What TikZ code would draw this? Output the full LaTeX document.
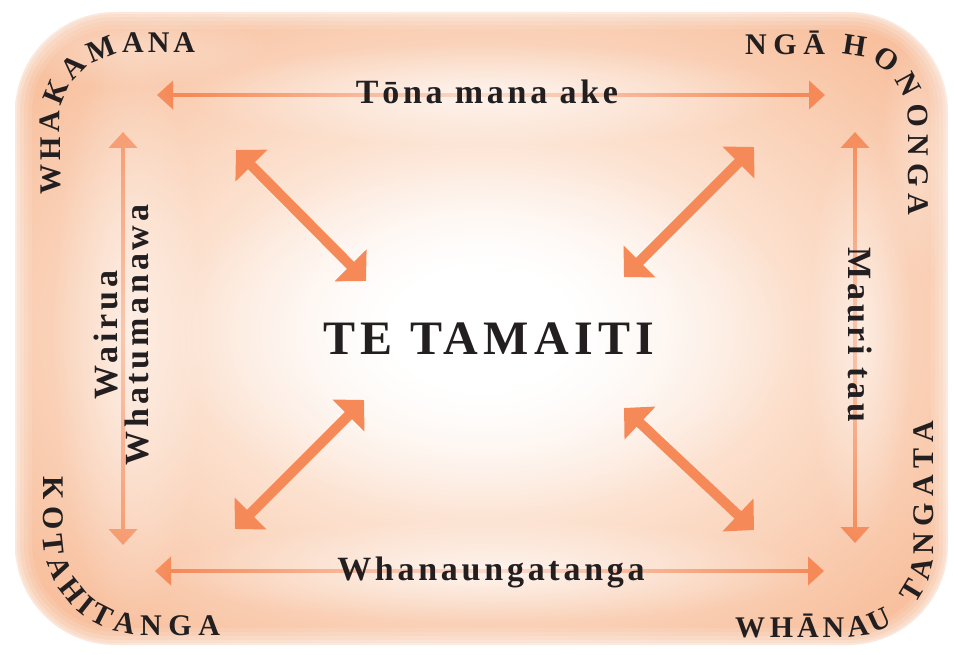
\documentclass[tikz,border=0pt]{standalone}
\usepackage{fontspec}
\setmainfont{Liberation Serif}
\newfontfamily\labfont[LetterSpace=11]{Liberation Serif}
\newfontfamily\cornfont{Liberation Serif}
\usetikzlibrary{arrows.meta,decorations.text,fadings}
\definecolor{arr}{HTML}{F58A58}
\definecolor{txt}{HTML}{231F20}
\definecolor{pa}{HTML}{FCE1CF}
\definecolor{pb}{HTML}{F8C2A1}
\definecolor{pc}{HTML}{F5AA83}
\definecolor{pd}{HTML}{F29D73}
\pgfdeclareradialshading{bgshade}{\pgfpoint{0bp}{0bp}}{color(0bp)=(white);color(5bp)=(white);color(16bp)=(pa);color(30bp)=(pb);color(44bp)=(pc);color(58bp)=(pd);color(72bp)=(pd)}
\tikzfading[name=glowfade, inner color=transparent!0, outer color=transparent!100]
\tikzset{
  lab/.style={text=txt, font=\labfont\bfseries\fontsize{34pt}{34pt}\selectfont, inner sep=0pt, anchor=base},
  big/.style={text=txt, font=\labfont\bfseries\fontsize{48pt}{48pt}\selectfont, inner sep=0pt, anchor=base},
  thinarr/.style={draw=arr, line width=4pt, >={Triangle[length=16pt,width=28pt]}, <->},
  thickarr/.style={draw=arr, line width=10pt, >={Triangle[length=22pt,width=44pt]}, <->},
  glow/.style={fill=white, path fading=glowfade},
  corner/.style={decorate, decoration={text effects along path, text={#1},
     text effects/.cd, fit text to path,
     characters={anchor=base, inner sep=0pt, transform shape, text=txt, font=\cornfont\bfseries\fontsize{30pt}{30pt}\selectfont}}}
}
\begin{document}
\begin{tikzpicture}[x=1pt,y=-1pt]
\useasboundingbox (0,0) rectangle (954,655);
% background panel
\shade[shading=bgshade, rounded corners=100] (15,12) rectangle (948,645);
\foreach \w/\o in {34/0.10, 26/0.12, 18/0.16, 10/0.22, 4/0.3}{
  \draw[white, line width=\w pt, opacity=\o, rounded corners=100] (15,12) rectangle (948,645);
}
% central glow
\fill[glow, opacity=0.9] (489,335) ellipse (320 and 180);
% arrow end points
\coordinate (t1) at (157,95);  \coordinate (t2) at (825,95);
\coordinate (l1) at (123,132); \coordinate (l2) at (123,545);
\coordinate (b1) at (155,571); \coordinate (b2) at (824,571);
\coordinate (r1) at (855,132); \coordinate (r2) at (855,543);
\coordinate (d1a) at (236,150); \coordinate (d1b) at (366,281);
\coordinate (d2a) at (754,147); \coordinate (d2b) at (624,277);
\coordinate (d3a) at (235,529); \coordinate (d3b) at (364,400);
\coordinate (d4a) at (624,408); \coordinate (d4b) at (754,530);
% arrows
\draw[thinarr] (t1) -- (t2);
\draw[thinarr] (l1) -- (l2);
\draw[thinarr] (b1) -- (b2);
\draw[thinarr] (r1) -- (r2);
\draw[thickarr] (d1a) -- (d1b);
\draw[thickarr] (d2a) -- (d2b);
\draw[thickarr] (d3a) -- (d3b);
\draw[thickarr] (d4a) -- (d4b);
% label glows
\fill[glow, opacity=0.7] (488,95) ellipse (300 and 52);
\fill[glow, opacity=0.7] (491,571) ellipse (320 and 52);
\fill[glow, opacity=0.55] (128,335) ellipse (76 and 290);
\fill[glow, opacity=0.55] (860,335) ellipse (52 and 210);
\fill[glow, opacity=0.35] (130,48) ellipse (140 and 40);
\fill[glow, opacity=0.35] (920,150) ellipse (40 and 130);
% labels
\node[lab] (tona) at (487,104) {Tōna mana ake};
\node[lab] (whan) at (491,580) {Whanaungatanga};
\node[lab, rotate=90] (wair) at (117,335) {Wairua};
\node[lab, rotate=90] (whatu) at (148,335) {Whatumanawa};
\node[lab, rotate=-90] (mauri) at (848,335) {Mauri tau};
\node[big] (tama) at (489,355) {TE TAMAITI};
% corner texts
\path[corner={WHAKAMANA}, rounded corners=70] (60,195) -- (60,53) -- (195,53);
\path[corner={NGĀ HONONGA}, rounded corners=65] (745,55) -- (908,55) -- (908,215);
\path[corner={KOTAHITANGA}, rounded corners=100] (43,476) -- (43,635) -- (220,635);
\path[corner={WHĀNAU}] (735,637) -- (848,637) arc[start angle=90, end angle=58, radius=85];
\path[corner={TANGATA}] (848,552) ++(38:85) arc[start angle=38, end angle=0, radius=85] -- (933,421);
\end{tikzpicture}
\end{document}
